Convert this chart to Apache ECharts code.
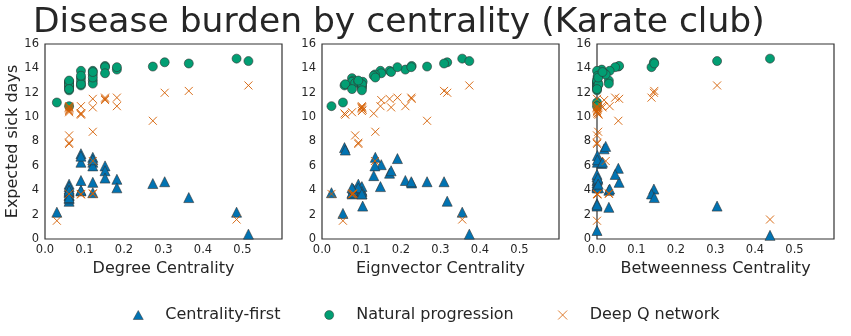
<!DOCTYPE html>
<html>
<head>
<meta charset="utf-8">
<script src="https://cdn.jsdelivr.net/npm/echarts@6/dist/echarts.min.js"></script>
<style>
html,body{margin:0;padding:0;background:#fff}
#chart{width:851px;height:336px}
</style>
</head>
<body>
<div id="chart"></div>
<script>
// karate club nodes 0..33, centrality of each node
var degreeC = [0.485,0.273,0.303,0.182,0.091,0.121,0.121,0.121,0.152,0.061,0.091,0.030,0.061,0.152,0.061,0.061,0.061,
               0.061,0.061,0.091,0.061,0.061,0.061,0.152,0.091,0.091,0.061,0.121,0.091,0.121,0.121,0.182,0.364,0.515];
var eigenC = [0.355,0.266,0.317,0.211,0.076,0.079,0.079,0.171,0.227,0.103,0.076,0.053,0.084,0.226,0.101,0.101,0.024,
              0.092,0.101,0.148,0.101,0.092,0.101,0.150,0.057,0.059,0.076,0.134,0.131,0.135,0.175,0.191,0.309,0.373];
var betweenC = [0.438,0.054,0.144,0.012,0.001,0.030,0.030,0,0.056,0.001,0.001,0,0,0.046,0,0,0,
                0,0,0.032,0,0,0,0.018,0.002,0.004,0,0.022,0.002,0.003,0.014,0.138,0.145,0.304];

// expected sick days per node
var natural = [14.8,14.15,14.5,13.9,13.2,13.0,12.75,13.8,14.2,12.9,12.9,11.2,12.8,14.1,12.6,12.5,10.9,
               12.9,12.4,13.8,12.7,13.0,12.2,13.6,12.6,12.7,12.3,13.5,13.4,13.25,13.7,14.1,14.4,14.6];
var dqn = [1.6,9.7,12.0,10.9,3.7,3.7,3.75,11.5,11.5,10.6,3.65,1.5,8.5,11.6,10.8,10.9,3.7,
           7.8,10.7,10.9,10.8,7.9,10.5,11.4,10.3,10.2,10.4,6.4,10.3,8.8,10.8,11.6,12.15,12.6];
// centrality-first depends on which centrality ranks the nodes
var firstDeg = [2.2,4.55,4.7,4.9,7.0,6.7,6.3,6.0,6.0,4.5,6.3,2.2,4.1,5.6,3.8,3.55,3.1,
                3.3,4.3,4.8,3.6,3.9,4.0,5.0,3.95,6.8,3.4,4.65,4.0,3.8,6.5,4.2,3.4,0.4];
var firstEig = [2.2,4.7,3.1,4.8,3.7,3.9,4.1,5.4,4.6,2.7,3.8,2.1,4.0,4.7,3.7,4.0,3.8,
                4.5,4.3,4.3,3.9,4.2,3.7,6.1,7.5,7.3,4.2,6.0,5.2,6.7,5.6,6.6,4.7,0.4];
var firstBet = [0.3,5.8,4.1,6.2,6.85,2.6,4.0,2.7,4.65,6.3,6.5,0.7,2.9,5.3,4.3,4.6,5.1,
                4.4,4.2,4.1,4.8,2.8,4.4,7.4,4.9,4.2,5.3,7.6,5.0,4.5,6.3,3.7,3.4,2.7];

var panelNames = ['Degree Centrality', 'Eignvector Centrality', 'Betweenness Centrality'];

var FONT = 'DejaVu Sans';
var TXT = '#262626';
var crossPath = 'path://M0,0L10,10M10,0L0,10';

function zip(xs, ys) {
    var out = [];
    for (var i = 0; i < xs.length; i++) out.push([xs[i], ys[i]]);
    return out;
}

var myChart = echarts.init(document.getElementById('chart'), null, {renderer: 'canvas'});

var xs = [degreeC, eigenC, betweenC];
var firsts = [firstDeg, firstEig, firstBet];
var gridLefts = [45, 322, 597];

var grids = [], xAxes = [], yAxes = [], series = [];
for (var p = 0; p < 3; p++) {
    grids.push({left: gridLefts[p], top: 44, width: 237, height: 195,
        show: true, borderColor: '#333', borderWidth: 1.2, backgroundColor: '#fff'});
    xAxes.push({
        gridIndex: p, type: 'value', min: 0, max: 0.6, interval: 0.1,
        name: panelNames[p], nameLocation: 'middle', nameGap: 17,
        nameTextStyle: {fontFamily: FONT, fontSize: 16, color: TXT},
        axisLine: {show: false}, axisTick: {show: false}, splitLine: {show: false},
        axisLabel: {fontFamily: FONT, fontSize: 11.5, color: TXT, margin: 5,
            formatter: function (v) { return v > 0.55 ? '' : v.toFixed(1); }}
    });
    yAxes.push({
        gridIndex: p, type: 'value', min: 0, max: 16, interval: 2,
        name: p === 0 ? 'Expected sick days' : '', nameLocation: 'middle', nameGap: 21,
        nameTextStyle: {fontFamily: FONT, fontSize: 16, color: TXT},
        axisLine: {show: false}, axisTick: {show: false}, splitLine: {show: false},
        axisLabel: {fontFamily: FONT, fontSize: 11.5, color: TXT, margin: 6}
    });
    series.push({
        name: 'Centrality-first', type: 'scatter', xAxisIndex: p, yAxisIndex: p,
        symbol: 'triangle', symbolSize: 10,
        itemStyle: {color: '#0173B2', borderColor: '#333', borderWidth: 0.6, opacity: 1},
        data: zip(xs[p], firsts[p])
    });
    series.push({
        name: 'Natural progression', type: 'scatter', xAxisIndex: p, yAxisIndex: p,
        symbol: 'circle', symbolSize: 9,
        itemStyle: {color: '#029E73', borderColor: '#333', borderWidth: 0.6, opacity: 1},
        data: zip(xs[p], natural)
    });
    series.push({
        name: 'Deep Q network', type: 'scatter', xAxisIndex: p, yAxisIndex: p,
        symbol: crossPath, symbolSize: 8,
        itemStyle: {color: 'transparent', borderColor: '#D55E00', borderWidth: 0.9, opacity: 1},
        data: zip(xs[p], dqn)
    });
}

var option = {
    backgroundColor: '#fff',
    animation: false,
    title: {
        text: 'Disease burden by centrality (Karate club)',
        left: 28, top: 1,
        textStyle: {fontFamily: FONT, fontSize: 34.5, fontWeight: 'normal', color: TXT}
    },
    legend: {
        left: 128, top: 302,
        itemWidth: 10, itemHeight: 9, itemGap: 44,
        textStyle: {fontFamily: FONT, fontSize: 16, color: TXT, padding: [0, 0, 0, 17]},
        data: [
            {name: 'Centrality-first', icon: 'triangle',
                itemStyle: {color: '#0173B2', borderColor: '#333', borderWidth: 0.5, opacity: 1}},
            {name: 'Natural progression', icon: 'circle',
                itemStyle: {color: '#029E73', borderColor: '#333', borderWidth: 0.5, opacity: 1}},
            {name: 'Deep Q network', icon: crossPath,
                itemStyle: {color: 'transparent', borderColor: '#D55E00', borderWidth: 0.8, opacity: 1}}
        ]
    },
    grid: grids,
    xAxis: xAxes,
    yAxis: yAxes,
    series: series
};

myChart.setOption(option);
</script>
</body>
</html>
